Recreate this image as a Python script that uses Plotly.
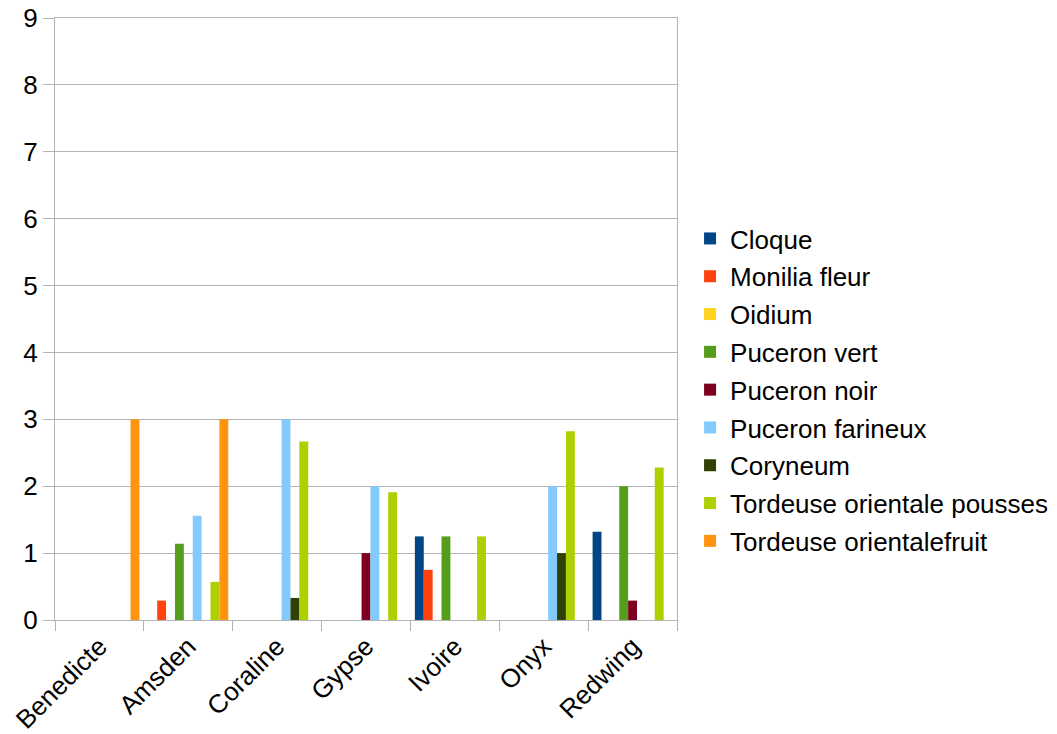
import plotly.graph_objects as go

categories = ["Benedicte", "Amsden", "Coraline", "Gypse", "Ivoire", "Onyx", "Redwing"]

series_names = [
    "Cloque", "Monilia fleur", "Oidium", "Puceron vert", "Puceron noir",
    "Puceron farineux", "Coryneum", "Tordeuse orientale pousses", "Tordeuse orientalefruit",
]
series_colors = ["#004586", "#ff420e", "#ffd320", "#579d1c", "#7e0021",
                 "#83caff", "#314004", "#aecf00", "#ff950e"]

cloque = [0, 0, 0, 0, 1.25, 0, 1.32]
monilia_fleur = [0, 0.29, 0, 0, 0.75, 0, 0]
oidium = [0, 0, 0, 0, 0, 0, 0]
puceron_vert = [0, 1.14, 0, 0, 1.25, 0, 2]
puceron_noir = [0, 0, 0, 1, 0, 0, 0.29]
puceron_farineux = [0, 1.56, 3, 2, 0, 2, 0]
coryneum = [0, 0, 0.33, 0, 0, 1, 0]
tordeuse_pousses = [0, 0.57, 2.67, 1.91, 1.25, 2.82, 2.28]
tordeuse_fruit = [3, 3, 0, 0, 0, 0, 0]

series_values = [cloque, monilia_fleur, oidium, puceron_vert, puceron_noir,
                 puceron_farineux, coryneum, tordeuse_pousses, tordeuse_fruit]

y_ticks = list(range(0, 10))

fig = go.Figure()
for i, (name, vals, col) in enumerate(zip(series_names, series_values, series_colors)):
    fig.add_trace(go.Bar(
        x=categories, y=vals, name=name,
        marker=dict(color=col, line=dict(width=0)),
        legendgroup=f"g{i}",
    ))

font = dict(family="Liberation Sans, Arial, sans-serif", size=26, color="#000000")

fig.update_layout(
    width=1049, height=726,
    margin=dict(l=47, r=380, t=10, b=114, autoexpand=False),
    paper_bgcolor="white", plot_bgcolor="white",
    barmode="group", bargap=0.1, bargroupgap=0,
    font=font,
    legend=dict(
        x=1.021, xanchor="left", y=0.382, yanchor="middle",
        font=dict(family="Liberation Sans, Arial, sans-serif", size=26),
        traceorder="grouped", tracegroupgap=1,
        bgcolor="rgba(0,0,0,0)",
    ),
    xaxis=dict(
        type="category", tickangle=-45, tickson="boundaries",
        ticks="outside", ticklen=10, tickcolor="#b3b3b3",
        showline=True, linecolor="#b3b3b3", linewidth=1, mirror=True,
        showgrid=False, tickfont=font, automargin=False,
        ticklabeloverflow="allow",
    ),
    yaxis=dict(
        range=[0, 9], tickvals=y_ticks, ticks="outside", ticklen=11,
        tickcolor="#b3b3b3", showline=True, linecolor="#b3b3b3", mirror=True,
        showgrid=True, gridcolor="#b3b3b3", gridwidth=1, zeroline=False,
        tickfont=font, automargin=False, ticklabeloverflow="allow",
    ),
)

fig.write_html("out.html")
